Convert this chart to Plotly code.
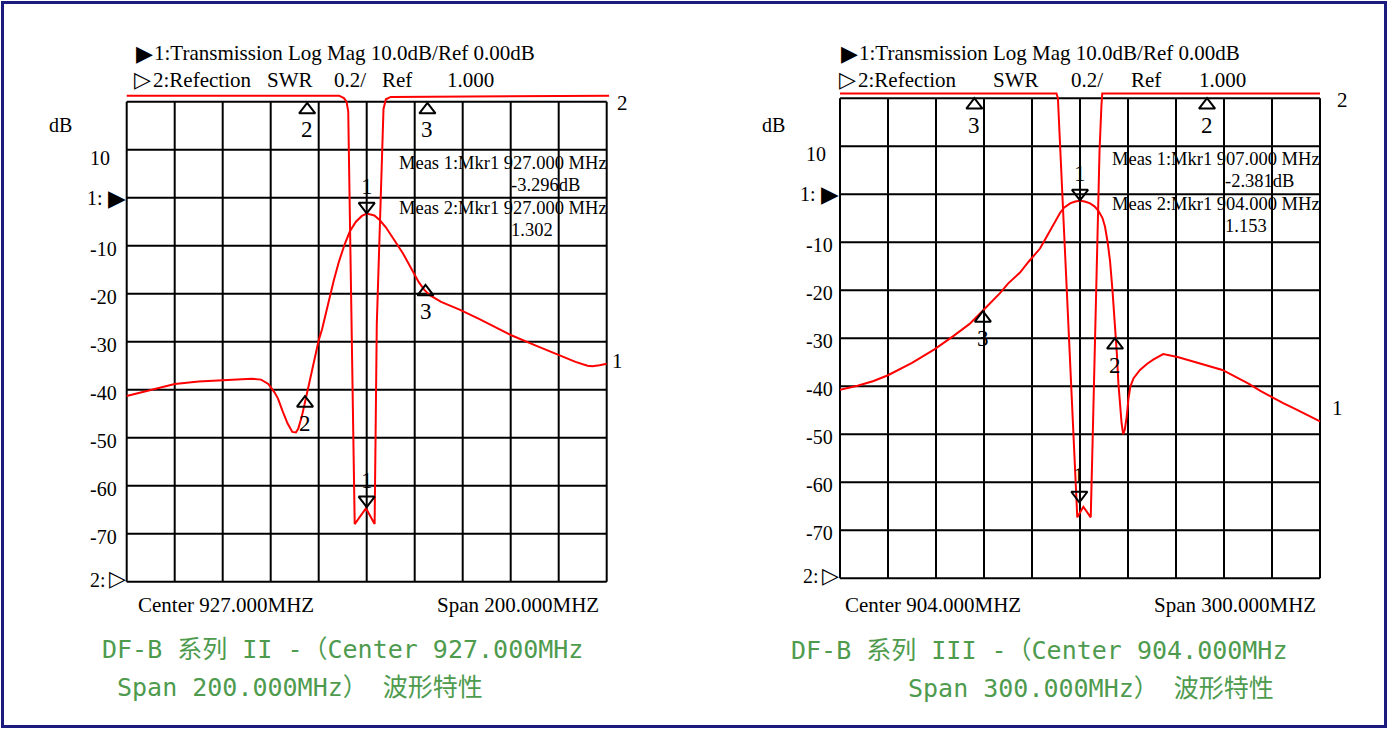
import plotly.graph_objects as go

# ------------------------------------------------------------------ data
# Chart A : DF-B series II, center 927 MHz, span 200 MHz
a_center, a_span = 927.0, 200.0
a_freq_t1 = [827, 837, 847, 857, 867, 879, 883, 886, 888.5, 890, 892, 894, 896, 897.5, 898.5,
             900, 902.4, 904.5, 907, 908.4, 911, 913.3, 915.5, 917.9, 920, 922.5, 925, 927,
             930.2, 932.5, 934.9, 937, 939.5, 942, 944, 946.5, 948.7, 951, 953.3, 958, 965.7,
             974, 982.6, 987, 997, 1007, 1014, 1019, 1021, 1024, 1027]
a_db_t1 = [-41.3, -40.0, -38.8, -38.3, -38.0, -37.7, -37.9, -38.8, -40.5, -41.8, -44.5, -47.0,
           -48.8, -48.9, -48.1, -45.5, -40.1, -35.0, -29.7, -27.4, -21.8, -17.2, -13.2, -9.6,
           -7.0, -5.0, -3.8, -3.3, -3.7, -4.7, -6.1, -7.8, -9.6, -11.5, -13.4, -15.6, -17.6,
           -19.2, -20.3, -21.7, -23.3, -25.3, -27.6, -28.6, -30.7, -32.8, -34.2, -35.0, -35.1,
           -34.9, -34.6]
a_freq_t2 = [827, 915.5, 917.5, 918.6, 919.3, 920.6, 922.0, 926.7, 930.3, 931.2, 934.0, 935.0,
             937.0, 1028]
a_swr_t2 = [3.025, 3.025, 3.015, 3.0, 2.96, 2.07, 1.24, 1.306, 1.24, 2.07, 2.97, 3.01, 3.02, 3.025]
a_mk_t1_freq = [927.0, 901.3, 951.5]
a_mk_t1_db = [-1.8, -42.8, -19.6]
a_mk_t1_name = ["1", "2", "3"]
a_mk_t2_freq = [927.0, 902.2, 952.3]
a_mk_t2_swr = [1.34, 2.966, 2.966]
a_mk_t2_name = ["1", "2", "3"]
a_meas = ["Meas 1:Mkr1 927.000 MHz", "-3.296dB", "Meas 2:Mkr1 927.000 MHz", "1.302"]
a_caption = ["DF-B 系列 II -（Center 927.000MHz", "Span 200.000MHz） 波形特性"]

# Chart B : DF-B series III, center 904 MHz, span 300 MHz
b_center, b_span = 904.0, 300.0
b_freq_t1 = [754, 765, 775, 784, 799, 813, 825, 835, 844, 854, 859, 866.5, 872, 876, 879, 882,
             885.3, 888.5, 891.5, 894, 897.8, 901, 904, 907, 910.3, 913, 915.4, 918, 919.6,
             921.3, 922.8, 924.3, 925.9, 927, 928, 929, 930, 931, 932, 933.2, 934.3, 935.5,
             937.5, 941.5, 946, 950, 956, 965, 974, 984, 993, 1001, 1009.6, 1017, 1024, 1031,
             1038.4, 1046, 1054]
b_db_t1 = [-40.7, -39.9, -38.9, -37.7, -35.1, -32.3, -29.5, -27.0, -24.0, -20.6, -18.6, -16.3,
           -14.0, -12.5, -11.3, -9.5, -7.6, -5.5, -3.9, -2.8, -1.9, -1.5, -1.35, -1.5, -1.9,
           -2.5, -3.4, -4.9, -6.7, -10.0, -14.0, -20.0, -27.0, -33.0, -39.4, -44.0, -47.7,
           -50.0, -49.0, -46.3, -42.5, -40.0, -38.3, -36.6, -35.3, -34.4, -33.3, -33.9, -34.8,
           -35.7, -36.6, -38.0, -39.5, -41.0, -42.3, -43.5, -44.7, -46.0, -47.3]
b_freq_t2 = [754, 889.3, 890.2, 890.9, 891.5, 899.8, 902.3, 906.1, 910.7, 911.9, 916.2, 917.4,
             917.9, 1054]
b_swr_t2 = [3.02, 3.02, 3.0, 2.9, 2.78, 1.576, 1.254, 1.298, 1.254, 1.576, 2.78, 2.97, 3.02, 3.02]
b_mk_t1_freq = [904.0, 925.9, 843.3]
b_mk_t1_db = [0.2, -31.4, -25.8]
b_mk_t1_name = ["1", "2", "3"]
b_mk_t2_freq = [903.6, 983.4, 838.0]
b_mk_t2_swr = [1.346, 2.972, 2.972]
b_mk_t2_name = ["1", "2", "3"]
b_meas = ["Meas 1:Mkr1 907.000 MHz", "-2.381dB", "Meas 2:Mkr1 904.000 MHz", "1.153"]
b_caption = ["DF-B 系列 III -（Center 904.000MHz", "Span 300.000MHz） 波形特性"]

# shared scale / labels
db_top, db_per_div = 20.0, 10.0
swr_ref, swr_per_div = 1.0, 0.2
n_div = 10
db_tick_vals = [10, -10, -20, -30, -40, -50, -60, -70]
db_tick_text = ["10", "-10", "-20", "-30", "-40", "-50", "-60", "-70"]
header_1_sym, header_1 = "▶", "1:Transmission Log Mag 10.0dB/Ref 0.00dB"
header_2_sym = "▷"
header_2 = ["2:Refection", "SWR", "0.2/", "Ref", "1.000"]

# ------------------------------------------------------------------ style / geometry
W, H = 1392, 729
SERIF = "Liberation Serif, Times New Roman, serif"
SYM = "DejaVu Sans"
CAP_FONT = "DejaVu Sans Mono, Noto Sans CJK SC, monospace"
RED = "#ff0000"
GREEN = "#4e9b4e"
NAVY = "#1c1c80"
CELL = 48.0
PAD_L, PAD_R, PAD_T, PAD_B = 7.0, 7.0, 12.0, 7.0

charts = [
    dict(ax="x", ay="y", ay2="y2", center=a_center, span=a_span, gl=126.7, gt=101.7,
         f1=a_freq_t1, v1=a_db_t1, f2=a_freq_t2, v2=a_swr_t2,
         m1f=a_mk_t1_freq, m1v=a_mk_t1_db, m1n=a_mk_t1_name,
         m2f=a_mk_t2_freq, m2v=a_mk_t2_swr, m2n=a_mk_t2_name,
         meas=a_meas, cap=a_caption,
         h1x=135, h2x=[134, 264.6, 332, 380, 444.7], tick_x=88, db_x=47,
         cx=136, sx=601, lbl2=(622, 103), lbl1=(617, 361),
         cap_pos=[(100, 649), (115, 687)]),
    dict(ax="x2", ay="y3", ay2="y4", center=b_center, span=b_span, gl=840.0, gt=98.3,
         f1=b_freq_t1, v1=b_db_t1, f2=b_freq_t2, v2=b_swr_t2,
         m1f=b_mk_t1_freq, m1v=b_mk_t1_db, m1n=b_mk_t1_name,
         m2f=b_mk_t2_freq, m2v=b_mk_t2_swr, m2n=b_mk_t2_name,
         meas=b_meas, cap=b_caption,
         h1x=840, h2x=[839, 990.6, 1069, 1128.5, 1197.4], tick_x=804, db_x=760,
         cx=843, sx=1318, lbl2=(1342, 100), lbl1=(1337, 408),
         cap_pos=[(789, 650), (906, 688)]),
]


def txt(s, px, py, size, anchor="left", color="black", family=SERIF):
    return dict(text=s, x=px / W, y=1 - py / H, xref="paper", yref="paper",
                xanchor=anchor, yanchor="middle", showarrow=False,
                font=dict(family=family, size=size, color=color))


fig = go.Figure()
layout_axes = {}
shapes = []
annotations = []

db_bottom = db_top - n_div * db_per_div
for i, c in enumerate(charts):
    lo = c["center"] - c["span"] / 2
    hi = c["center"] + c["span"] / 2
    ppu_x = n_div * CELL / c["span"]          # px per MHz
    ppu_y = CELL / db_per_div                 # px per dB
    gl, gt = c["gl"], c["gt"]
    gr, gb = gl + n_div * CELL, gt + n_div * CELL
    xr = [lo - PAD_L / ppu_x, hi + PAD_R / ppu_x]
    yr = [db_bottom - PAD_B / ppu_y, db_top + PAD_T / ppu_y]
    swr_r = [swr_ref + (v - db_bottom) / db_per_div * swr_per_div for v in yr]
    xdom = [(gl - PAD_L) / W, (gr + PAD_R) / W]
    ydom = [1 - (gb + PAD_B) / H, 1 - (gt - PAD_T) / H]

    xname = "xaxis" if c["ax"] == "x" else "xaxis" + c["ax"][1:]
    yname = "yaxis" if c["ay"] == "y" else "yaxis" + c["ay"][1:]
    y2name = "yaxis" + c["ay2"][1:]
    layout_axes[xname] = dict(domain=xdom, range=xr, visible=False, fixedrange=True,
                              anchor=c["ay"])
    layout_axes[yname] = dict(domain=ydom, range=yr, visible=False, fixedrange=True,
                              anchor=c["ax"])
    layout_axes[y2name] = dict(range=swr_r, visible=False, fixedrange=True,
                               overlaying=c["ay"], anchor=c["ax"])

    # grid
    for k in range(n_div + 1):
        f = lo + k * c["span"] / n_div
        shapes.append(dict(type="line", xref=c["ax"], yref=c["ay"], x0=f, x1=f,
                           y0=db_bottom, y1=db_top, layer="below",
                           line=dict(color="black", width=2)))
        v = db_bottom + k * db_per_div
        shapes.append(dict(type="line", xref=c["ax"], yref=c["ay"], x0=lo, x1=hi,
                           y0=v, y1=v, layer="below",
                           line=dict(color="black", width=2)))

    # traces
    fig.add_trace(go.Scatter(x=c["f1"], y=c["v1"], xaxis=c["ax"], yaxis=c["ay"],
                             mode="lines", line=dict(color=RED, width=2),
                             hoverinfo="skip", showlegend=False))
    fig.add_trace(go.Scatter(x=c["f2"], y=c["v2"], xaxis=c["ax"], yaxis=c["ay2"],
                             mode="lines", line=dict(color=RED, width=2),
                             hoverinfo="skip", showlegend=False))

    # markers
    for fs, vs, ns, yax in ((c["m1f"], c["m1v"], c["m1n"], c["ay"]),
                            (c["m2f"], c["m2v"], c["m2n"], c["ay2"])):
        syms = ["triangle-down-open" if n == "1" else "triangle-up-open" for n in ns]
        fig.add_trace(go.Scatter(x=fs, y=vs, xaxis=c["ax"], yaxis=yax, mode="markers",
                                 marker=dict(symbol=syms, size=14, color="black",
                                             line=dict(width=2, color="black")),
                                 cliponaxis=False, hoverinfo="skip", showlegend=False))
        for f, v, n in zip(fs, vs, ns):
            annotations.append(dict(text=n, x=f, y=v, xref=c["ax"], yref=yax,
                                    yshift=20 if n == "1" else -20, showarrow=False,
                                    xanchor="center", yanchor="middle",
                                    font=dict(family=SERIF, size=23, color="black")))

    # headers
    annotations.append(txt(header_1_sym, c["h1x"] - 1, 53, 22, family=SYM))
    annotations.append(txt(header_1, c["h1x"] + 17, 53, 21))
    annotations.append(txt(header_2_sym, c["h2x"][0] - 2, 80, 22, family=SYM))
    annotations.append(txt(header_2[0], c["h2x"][0] + 17, 79.5, 21))
    for s, px in zip(header_2[1:], c["h2x"][1:]):
        annotations.append(txt(s, px, 79.5, 21))

    # y labels
    annotations.append(txt("dB", c["db_x"], 125, 20))
    for v, s in zip(db_tick_vals, db_tick_text):
        py = gt + (db_top - v) * ppu_y + (8 if v == 10 else 3)
        annotations.append(txt(s, c["tick_x"], py, 20))
    py0 = gt + db_top * ppu_y
    annotations.append(txt("1:", gl - 42, py0, 20))
    annotations.append(txt("▶", gl + 1, py0, 23, anchor="right", family=SYM))
    annotations.append(txt("2:", gl - 39, gb - 2, 20))
    annotations.append(txt("▷", gl + 1, gb - 3, 22, anchor="right", family=SYM))

    # measurement readouts
    annotations.append(txt(c["meas"][0], gl + 270, gt + 61, 18.5))
    annotations.append(txt(c["meas"][1], gl + 382.5, gt + 83, 18.5))
    annotations.append(txt(c["meas"][2], gl + 270, gt + 106, 18.5))
    annotations.append(txt(c["meas"][3], gl + 382.5, gt + 128, 18.5))

    # trace end labels
    annotations.append(txt("2", c["lbl2"][0], c["lbl2"][1], 21, anchor="center"))
    annotations.append(txt("1", c["lbl1"][0], c["lbl1"][1], 21, anchor="center"))

    # bottom labels
    annotations.append(txt("Center %.3fMHZ" % c["center"], c["cx"], 605, 21))
    annotations.append(txt("Span %.3fMHZ" % c["span"], c["sx"], 605, 21, anchor="right"))

    # captions
    for s, (px, py) in zip(c["cap"], c["cap_pos"]):
        annotations.append(txt(s, px, py, 25, color=GREEN, family=CAP_FONT))

# outer border
shapes.append(dict(type="rect", xref="paper", yref="paper",
                   x0=2.5 / W, x1=1385.5 / W, y0=1 - 726.5 / H, y1=1 - 2.5 / H,
                   line=dict(color=NAVY, width=3), layer="above"))

fig.update_layout(width=W, height=H, autosize=False,
                  margin=dict(l=0, r=0, t=0, b=0, pad=0),
                  paper_bgcolor="white", plot_bgcolor="white",
                  showlegend=False, shapes=shapes, annotations=annotations,
                  **layout_axes)

fig.write_html("out.html", config={"displayModeBar": False, "staticPlot": True})
